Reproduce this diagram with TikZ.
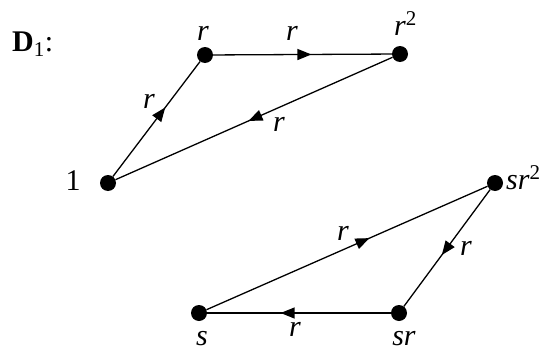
\documentclass[tikz,border=0pt]{standalone}
\usepackage{fontspec}
\setmainfont{Liberation Serif}
\usetikzlibrary{arrows.meta,decorations.markings}
\tikzset{
  dot/.style={circle,fill=black,draw=none,minimum size=16pt,inner sep=0pt},
  lbl/.style={inner sep=0pt,anchor=base,font=\fontsize{30}{34}\selectfont},
  edge/.style={line width=1.3pt,postaction={decorate},
    decoration={markings,mark=at position #1 with {\arrow{Triangle[length=14pt,width=11pt]}}}},
}
\begin{document}
\begin{tikzpicture}[x=1pt,y=-1pt]
\useasboundingbox (0,0) rectangle (539,351);
% vertices
\node[dot] (e)   at (108,183) {};
\node[dot] (r)   at (205,55) {};
\node[dot] (r2)  at (400,54) {};
\node[dot] (sr2) at (495,183) {};
\node[dot] (s)   at (199,313) {};
\node[dot] (sr)  at (399,313) {};
% edges
\draw[edge=0.6] (e) -- (r);
\draw[edge=0.55] (r) -- (r2);
\draw[edge=0.52] (r2) -- (e);
\draw[edge=0.58] (s) -- (sr2);
\draw[edge=0.56] (sr2) -- (sr);
\draw[edge=0.6] (sr) -- (s);
% vertex labels
\node[lbl,anchor=base west] (title) at (12,51) {\textbf{D}\textsubscript{1}:};
\node[lbl] (le) at (73,190) {1};
\node[lbl] (lr) at (203,40) {\textit{r}};
\node[lbl,anchor=base west] (lr2) at (394,35) {\textit{r}\textsuperscript{2}};
\node[lbl,anchor=base west] (lsr2) at (506,189) {\textit{sr}\textsuperscript{2}};
\node[lbl] (ls) at (202,345) {\textit{s}};
\node[lbl] (lsr) at (404,345) {\textit{sr}};
% edge labels
\node[lbl] (l1) at (149,108) {\textit{r}};
\node[lbl] (l2) at (292,40) {\textit{r}};
\node[lbl] (l3) at (279,131) {\textit{r}};
\node[lbl] (l4) at (343,240) {\textit{r}};
\node[lbl] (l5) at (466,255) {\textit{r}};
\node[lbl] (l6) at (295,336) {\textit{r}};
\end{tikzpicture}
\end{document}
